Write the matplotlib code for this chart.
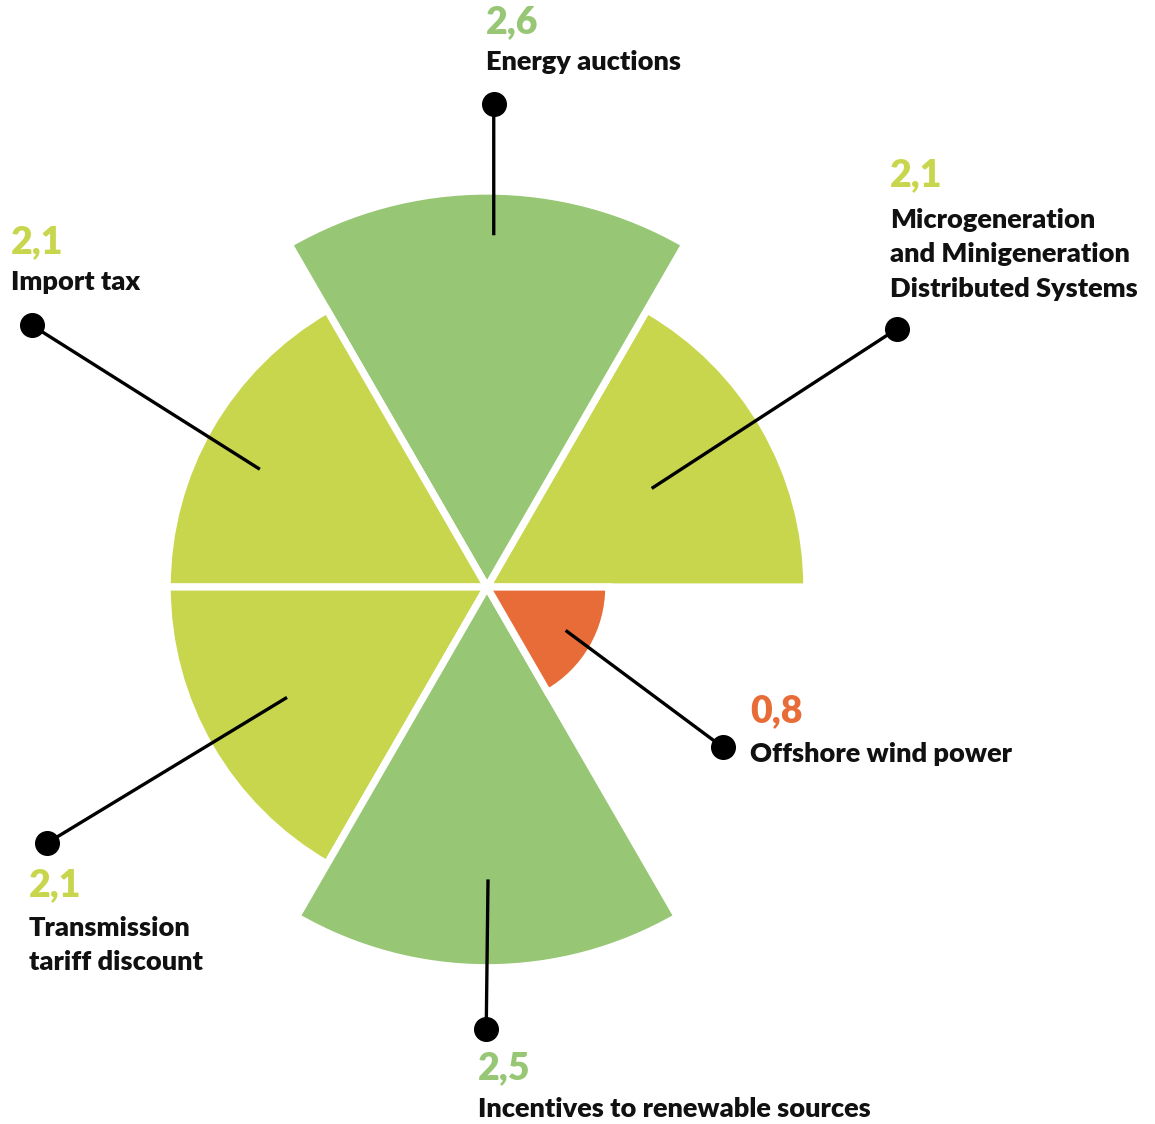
import numpy as np
import matplotlib
matplotlib.use("Agg")
import matplotlib.pyplot as plt

# data
categories = [
    "Microgeneration\nand Minigeneration\nDistributed Systems",
    "Energy auctions",
    "Import tax",
    "Transmission\ntariff discount",
    "Incentives to renewable sources",
    "Offshore wind power",
]
values = [2.1, 2.6, 2.1, 2.1, 2.5, 0.8]
value_labels = ["2,1", "2,6", "2,1", "2,1", "2,5", "0,8"]
colors = ["#C8D64E", "#97C675", "#C8D64E", "#C8D64E", "#97C675", "#E86C37"]

# leader lines: (theta deg, r) inside wedge -> dot outside
line_start = [(30.9, 1.26), (88.9, 2.31), (152.6, 1.68), (208.9, 1.50), (270.2, 1.92), (331.1, 0.59)]
line_end = [(32.2, 3.18), (89.2, 3.17), (150.1, 3.45), (210.2, 3.34), (269.9, 2.90), (325.8, 1.87)]

# text anchors in pixels (left x, value baseline, first name baseline)
text_pos = [(890, 186, 228), (486, 33, 70), (11, 253, 290), (29, 896, 936), (478, 1079, 1117), (750, 722, 762)]

W, H = 1155, 1124
cx, cy = 487, 587
scale = 152.3  # px per unit
rmax = 3.0
R = rmax * scale

fig = plt.figure(figsize=(W / 100, H / 100), dpi=100)
ax = fig.add_axes([(cx - R) / W, (H - cy - R) / H, 2 * R / W, 2 * R / H], projection="polar")
ax.set_ylim(0, rmax)
ax.axis("off")

thetas = np.deg2rad([30, 90, 150, 210, 270, 330])
ax.bar(thetas, values, width=np.deg2rad(60), color=colors, edgecolor="white", linewidth=5.2)

for (t0, r0), (t1, r1) in zip(line_start, line_end):
    ax.plot([np.deg2rad(t0), np.deg2rad(t1)], [r0, r1], color="black", lw=2.4, clip_on=False, solid_capstyle="butt")
    ax.plot(np.deg2rad(t1), r1, "o", color="black", ms=17, clip_on=False)

font = "Lato"
for name, val, col, (x, yv, yn) in zip(categories, value_labels, colors, text_pos):
    fig.text(x / W, 1 - yv / H, val, color=col, fontsize=27, fontweight="heavy", family=font, va="baseline", ha="left")
    for i, line in enumerate(name.split("\n")):
        fig.text(x / W, 1 - (yn + i * 34.5) / H, line, color="#111111", fontsize=19.5, fontweight="heavy",
                 family=font, va="baseline", ha="left")

fig.savefig("out.png", dpi=100)
